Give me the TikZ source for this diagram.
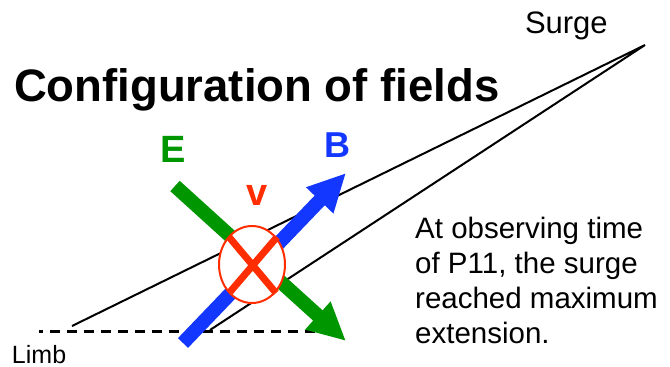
\documentclass[tikz,border=0pt]{standalone}
\usepackage{fontspec}
\setmainfont{Liberation Sans}
\usetikzlibrary{arrows.meta,shapes.geometric}
\definecolor{fgreen}{RGB}{0,150,0}
\definecolor{fblue}{RGB}{20,55,255}
\definecolor{fred}{RGB}{255,45,0}
\tikzset{
  txt/.style={anchor=base west, inner sep=0pt, outer sep=0pt},
  surgeline/.style={black, line width=2pt},
  limbline/.style={black, line width=3pt, dash pattern=on 10pt off 7pt, dash phase=6pt},
  fieldarrow/.style={line width=14pt, -{Triangle[length=38pt,width=35pt]}},
}
\begin{document}
\begin{tikzpicture}[x=1pt,y=-1pt]
\useasboundingbox (0,0) rectangle (670,367);
% coordinates
\coordinate (tip) at (645,45);
\coordinate (l1) at (72,326);
\coordinate (l2) at (210,330);
\coordinate (d1) at (39,331);
\coordinate (d2) at (318,331);
\coordinate (g0) at (175,186);
\coordinate (g1) at (346,341);
\coordinate (b0) at (183,343);
\coordinate (b1) at (346,173);
% texts
\node[txt, font=\fontsize{45.5}{50}\selectfont\bfseries] (title) at (14,101) {Configuration of fields};
\node[txt, font=\fontsize{31}{34}\selectfont] (surge) at (525,33) {Surge};
\node[txt, font=\fontsize{25}{28}\selectfont] (limb) at (12,363) {Limb};
\node[anchor=north west, inner sep=0pt, align=left, font=\fontsize{29.5}{35}\selectfont] (note) at (415,217)
  {At observing time\\of P11, the surge\\reached maximum\\extension.};
\node[txt, font=\fontsize{38}{40}\selectfont\bfseries, text=fgreen] (E) at (160,162) {E};
\node[txt, font=\fontsize{36}{40}\selectfont\bfseries, text=fblue] (B) at (324,157) {B};
\node[txt, font=\fontsize{38}{40}\selectfont\bfseries, text=fred] (v) at (246,205) {v};
% surge lines
\draw[surgeline] (l1) -- (tip) -- (l2);
\draw[limbline] (d1) -- (d2);
% field arrows
\draw[fieldarrow, fgreen] (g0) -- (g1);
\draw[fieldarrow, fblue] (b0) -- (b1);
% velocity symbol
\node[ellipse, draw=fred, fill=white, line width=2pt, minimum width=66pt, minimum height=77pt, inner sep=0pt] (vel) at (252,264.5) {};
\coordinate (x1) at (229,237);
\coordinate (x2) at (276,293);
\coordinate (x3) at (277,237);
\coordinate (x4) at (230,292);
\draw[fred, line width=7pt] (x1) -- (x2) (x3) -- (x4);
\end{tikzpicture}
\end{document}
